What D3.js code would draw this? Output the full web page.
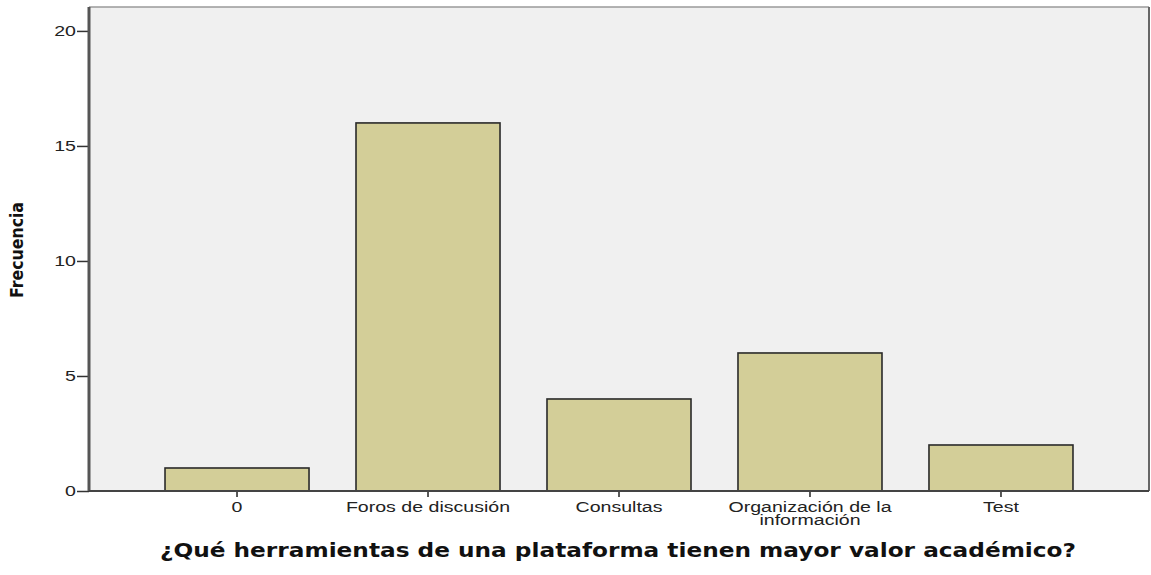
<!DOCTYPE html>
<html>
<head>
<meta charset="utf-8">
<script src="https://cdn.jsdelivr.net/npm/d3@7"></script>
<style>
  body { margin: 0; background: #fff; }
  svg { display: block; }
</style>
</head>
<body>
<div id="chart"></div>
<script>
// data
var categories = ["0", "Foros de discusión", "Consultas", "Organización de la\ninformación", "Test"];
var frecuencia = [1, 16, 4, 6, 2];
var yTicks = [0, 5, 10, 15, 20];
var xTitle = "¿Qué herramientas de una plataforma tienen mayor valor académico?";
var yTitle = "Frecuencia";

var width = 1151, height = 575;
var mLeft = 89, mRight = 1149, mTop = 7, mBottom = 491;
var stretch = 1.35; // SPSS-style wide labels

var svg = d3.select("#chart").append("svg")
    .attr("width", width)
    .attr("height", height);

var x = d3.scaleBand()
    .domain(categories)
    .range([mLeft, mRight])
    .paddingInner(0.246)
    .paddingOuter(0.398);

var y = d3.scaleLinear()
    .domain([0, 21.04])
    .range([mBottom, mTop]);

// plot background
svg.append("rect")
    .attr("x", mLeft)
    .attr("y", mTop)
    .attr("width", mRight - mLeft)
    .attr("height", mBottom - mTop)
    .attr("fill", "#f0f0f0");

// bars
svg.selectAll(".bar")
    .data(frecuencia)
  .enter().append("rect")
    .attr("class", "bar")
    .attr("x", function(d, i) { return x(categories[i]); })
    .attr("y", function(d) { return y(d); })
    .attr("width", x.bandwidth())
    .attr("height", function(d) { return y(0) - y(d); })
    .attr("fill", "#d3ce98")
    .attr("stroke", "#2a2a2a")
    .attr("stroke-width", 1.6);

// frame: top and right
svg.append("line")
    .attr("x1", mLeft).attr("x2", mRight)
    .attr("y1", mTop).attr("y2", mTop)
    .attr("stroke", "#9a9a9a").attr("stroke-width", 1.5);
svg.append("line")
    .attr("x1", mRight).attr("x2", mRight)
    .attr("y1", mTop).attr("y2", mBottom)
    .attr("stroke", "#666").attr("stroke-width", 2);

// y axis
var yAxis = d3.axisLeft(y)
    .tickValues(yTicks)
    .tickSize(12);

var gy = svg.append("g")
    .attr("transform", "translate(" + mLeft + ",0)")
    .call(yAxis);
gy.select(".domain").remove();
gy.append("line")
    .attr("x1", 0).attr("x2", 0)
    .attr("y1", mTop).attr("y2", mBottom)
    .attr("stroke", "#555").attr("stroke-width", 3);
gy.selectAll(".tick line").attr("stroke", "#333").attr("stroke-width", 1.5);
gy.selectAll(".tick text")
    .attr("x", 0)
    .attr("transform", "translate(-13,0) scale(" + stretch + ",1)")
    .attr("font-family", "Liberation Sans, Arial, sans-serif")
    .attr("font-size", 14.5)
    .attr("fill", "#222");

// x axis
var xAxis = d3.axisBottom(x)
    .tickSize(6)
    .tickFormat("");

var gx = svg.append("g")
    .attr("transform", "translate(0," + mBottom + ")")
    .call(xAxis);
gx.select(".domain").remove();
gx.append("line")
    .attr("x1", mLeft).attr("x2", mRight)
    .attr("y1", 0).attr("y2", 0)
    .attr("stroke", "#444").attr("stroke-width", 2);
gx.selectAll(".tick line").attr("stroke", "#222").attr("stroke-width", 1.5);

gx.selectAll(".tick").each(function(d) {
  var lines = d.split("\n");
  var t = d3.select(this).append("text")
      .attr("text-anchor", "middle")
      .attr("transform", "scale(" + stretch + ",1)")
      .attr("font-family", "Liberation Sans, Arial, sans-serif")
      .attr("font-size", 14.5)
      .attr("fill", "#222");
  lines.forEach(function(s, k) {
    t.append("tspan")
        .attr("x", 0)
        .attr("y", 21.5 + k * 13)
        .text(s);
  });
});

// axis titles
svg.append("text")
    .attr("x", 618)
    .attr("y", 557)
    .attr("text-anchor", "middle")
    .attr("font-family", "DejaVu Sans, Verdana, sans-serif")
    .attr("font-weight", "bold")
    .attr("font-size", 20)
    .attr("textLength", 916)
    .attr("lengthAdjust", "spacingAndGlyphs")
    .attr("fill", "#111")
    .text(xTitle);

svg.append("text")
    .attr("transform", "translate(23,250) rotate(-90)")
    .attr("text-anchor", "middle")
    .attr("font-family", "Liberation Sans Narrow, DejaVu Sans Condensed, Arial, sans-serif")
    .attr("font-weight", "bold")
    .attr("font-size", 17)
    .attr("textLength", 96)
    .attr("lengthAdjust", "spacingAndGlyphs")
    .attr("fill", "#111")
    .text(yTitle);
</script>
</body>
</html>
